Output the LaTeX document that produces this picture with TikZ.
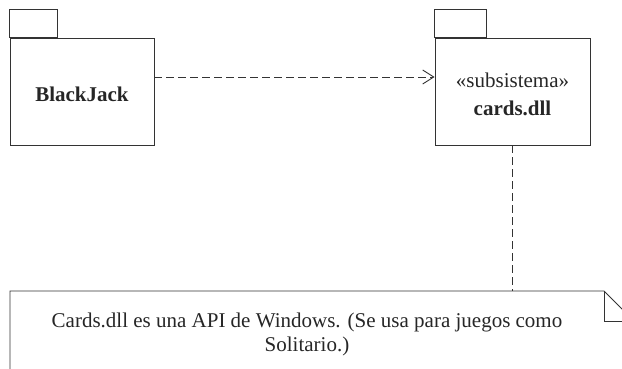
\documentclass[tikz,border=0pt]{standalone}
\usepackage{fontspec}
\setmainfont{Liberation Serif}
\newfontfamily\diagserif{Liberation Serif}
\usetikzlibrary{arrows.meta}
\begin{document}
\begin{tikzpicture}[x=1pt,y=-1pt,
  line width=0.9pt, draw=black!80,
  txt/.style={font=\diagserif\fontsize{21}{24}\selectfont, text=black!85},
  pkgbody/.style={draw, rectangle, inner sep=0pt},
  depline/.style={dashed, dash pattern=on 7.5pt off 4.5pt},
  opentip/.style={-{Straight Barb[length=11pt,width=14pt,line width=0.9pt]}}]
\useasboundingbox (0,0) rectangle (622,368);
\clip (0,0) rectangle (622,368);
% BlackJack package
\node[pkgbody, minimum width=144pt, minimum height=107pt] (bj) at (82,91.5) {};
\node[txt] (bjt) at (82,94) {\bfseries BlackJack};
\draw (bj.north west) rectangle ++(48,-28);
% cards.dll package
\node[pkgbody, minimum width=155pt, minimum height=107pt] (cd) at (512.5,91.5) {};
\node[txt, align=center, inner sep=0pt] (cdt) at (512.5,94)
  {«subsistema»\\[4pt]\bfseries cards.dll};
\draw (cd.north west) rectangle ++(52,-28);
% dependency
\draw[depline, opentip] ([yshift=14.5pt]bj.east) -- ([yshift=14.5pt]cd.west);
% note
\draw (10,400) -- (10,291) -- (604,291) -- (634,321) -- (634,400);
\draw (604,291) -- (604,321) -- (634,321);
\coordinate (ntop) at (512.5,291);
\node[txt, align=center, inner sep=0pt] (nt) at (307,334)
  {Cards.dll es una API de Windows. (Se usa para juegos como\\Solitario.)};
\draw[depline] (cd.south) -- (ntop);
\end{tikzpicture}
\end{document}
